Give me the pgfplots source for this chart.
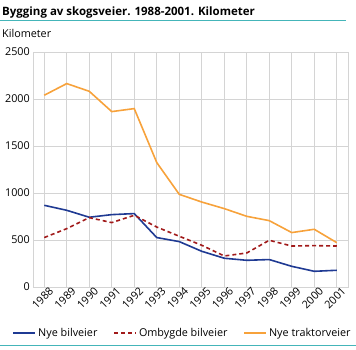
\documentclass[border=0pt]{standalone}
\usepackage{fontspec}
\setmainfont{Open Sans}
\usepackage{pgfplots}
\pgfplotsset{compat=1.18}
\definecolor{gridgray}{HTML}{D4D4D4}
\definecolor{sblue}{HTML}{1F3A93}
\definecolor{sred}{HTML}{A11A1A}
\definecolor{sorange}{HTML}{F7A23B}
\definecolor{steal}{HTML}{44B5B9}
\begin{document}
\begin{tikzpicture}
\useasboundingbox (0pt,0pt) rectangle (356pt,349pt);
\draw[steal, line width=1pt] (0pt,328.5pt) -- (346pt,328.5pt);
\draw[steal, line width=1pt] (0pt,3.5pt) -- (356pt,3.5pt);
\node[anchor=base west, inner sep=0pt, font=\bfseries\fontsize{11.5}{14}\selectfont] at (2pt,333pt) {Bygging av skogsveier. 1988-2001. Kilometer};
\node[anchor=base west, inner sep=0pt, font=\fontsize{10.8}{12}\selectfont] at (2pt,311pt) {Kilometer};
\begin{axis}[
  at={(33pt,62pt)}, anchor=south west,
  width=315pt, height=235pt, scale only axis,
  xmin=1987.5, xmax=2001.5, ymin=0, ymax=2500,
  xtick={1988,...,2001}, ytick={0,500,...,2500},
  grid=major, grid style={gridgray, line width=0.8pt},
  axis line style={gridgray, line width=0.8pt},
  major tick length=0pt,
  /pgf/number format/1000 sep={},
  /pgf/number format/assume math mode=true,
  ticklabel style={font=\fontsize{10.8}{12}\selectfont},
  x tick label style={rotate=45, anchor=north east, inner sep=0.5pt, xshift=4pt, yshift=-2pt},
  y tick label style={inner sep=1pt, xshift=-2pt},
  legend style={at={(0.475,-0.195)}, anchor=center, draw=none, fill=none,
    font=\fontsize{10.8}{12}\selectfont, /tikz/every even column/.append style={column sep=14pt}},
  legend columns=3,
  legend image code/.code={\draw[#1] (0pt,0pt) -- (22pt,0pt);},
]
\addplot[sblue, line width=1.6pt] coordinates {
(1988,869) (1989,816) (1990,742) (1991,770) (1992,781) (1993,526) (1994,483)
(1995,380) (1996,306) (1997,284) (1998,292) (1999,220) (2000,167) (2001,178)};
\addlegendentry{Nye bilveier}
\addplot[sred, line width=1.6pt, dash pattern=on 4pt off 3pt] coordinates {
(1988,526) (1989,621) (1990,738) (1991,685) (1992,763) (1993,638) (1994,540)
(1995,444) (1996,330) (1997,362) (1998,497) (1999,436) (2000,440) (2001,436)};
\addlegendentry{Ombygde bilveier}
\addplot[sorange, line width=1.6pt] coordinates {
(1988,2040) (1989,2164) (1990,2082) (1991,1866) (1992,1898) (1993,1324) (1994,986)
(1995,904) (1996,834) (1997,752) (1998,706) (1999,579) (2000,614) (2001,472)};
\addlegendentry{Nye traktorveier}
\end{axis}
\end{tikzpicture}
\end{document}
